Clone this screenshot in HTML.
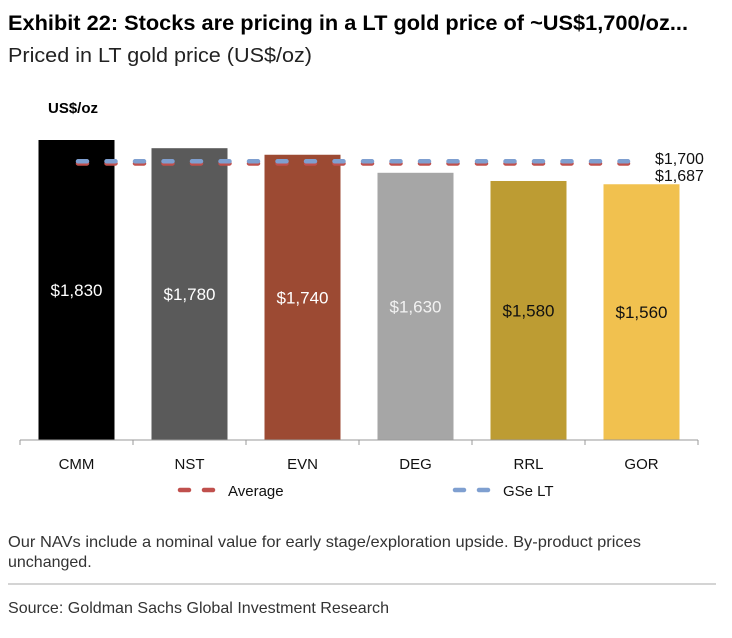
<!DOCTYPE html>
<html><head><meta charset="utf-8"><style>
body{margin:0;background:#fff}
svg{display:block;font-family:"Liberation Sans",sans-serif}
</style></head><body>
<svg id="c" width="732" height="638" viewBox="0 0 732 638">
<text x="8" y="30" font-size="21" font-weight="bold" textLength="680" lengthAdjust="spacingAndGlyphs" fill="#000">Exhibit 22: Stocks are pricing in a LT gold price of ~US$1,700/oz...</text>
<text x="8" y="62" font-size="20" textLength="304" lengthAdjust="spacingAndGlyphs" fill="#222">Priced in LT gold price (US$/oz)</text>
<text x="48" y="113" font-size="15" font-weight="bold" fill="#000">US$/oz</text>
<g id="bars"></g>
<g id="lines"></g>
<line x1="20" y1="440" x2="698" y2="440" stroke="#999" stroke-width="1"/>
<g id="ticks"></g>
<g>
<line x1="180" y1="490" x2="213" y2="490" stroke="#c0504d" stroke-width="4.5" stroke-linecap="round" stroke-dasharray="9,15"/>
<text x="228" y="496" font-size="15" fill="#111">Average</text>
<line x1="455" y1="490" x2="488" y2="490" stroke="#7f9fd0" stroke-width="4.5" stroke-linecap="round" stroke-dasharray="9,15"/>
<text x="503" y="496" font-size="15" fill="#111">GSe LT</text>
</g>
<text x="8" y="547" font-size="16" textLength="633" lengthAdjust="spacingAndGlyphs" fill="#333">Our NAVs include a nominal value for early stage/exploration upside. By-product prices</text>
<text x="8" y="567" font-size="16" fill="#333">unchanged.</text>
<line x1="8" y1="584" x2="716" y2="584" stroke="#aaa" stroke-width="1"/>
<text x="8" y="613" font-size="16" textLength="381" lengthAdjust="spacingAndGlyphs" fill="#333">Source: Goldman Sachs Global Investment Research</text>
</svg>
<script>
const categories=["CMM","NST","EVN","DEG","RRL","GOR"];
const values=[1830,1780,1740,1630,1580,1560];
const valueLabels=["$1,830","$1,780","$1,740","$1,630","$1,580","$1,560"];
const averageValue=1687;
const gseValue=1700;
const colors=["#000000","#5a5a5a","#9c4a33","#a6a6a6","#bd9c33","#f1c14f"];
const textColors=["#fff","#fff","#fff","#f2f2f2","#111","#111"];
const NS="http://www.w3.org/2000/svg";
const y0=440,k=300/1830,x0=20,step=113,bw=76;
const y=v=>y0-v*k;
const xb=i=>x0+i*step+(step-bw)/2;
function mk(t,a,p){const e=document.createElementNS(NS,t);for(const n in a)e.setAttribute(n,a[n]);p.appendChild(e);return e;}
const bars=document.getElementById('bars'),ticks=document.getElementById('ticks'),lines=document.getElementById('lines');
categories.forEach((c,i)=>{
 const r=mk('rect',{x:xb(i),y:y(values[i]),width:bw,height:y0-y(values[i]),fill:colors[i]},bars);
 
 
 const t=mk('text',{x:xb(i)+bw/2,y:(y(values[i])+y0)/2+6,'text-anchor':'middle','font-size':'17',fill:textColors[i]},bars);
 t.textContent=valueLabels[i];
 
 
 const l=mk('text',{x:x0+i*step+step/2,y:469,'text-anchor':'middle','font-size':'15',fill:'#111'},ticks);
 l.textContent=c;
 
 
});
for(let i=0;i<=categories.length;i++){
 const tk=mk('line',{x1:x0+i*step,x2:x0+i*step,y1:y0,y2:y0+5,stroke:'#999'},ticks);
 
 
}
const la=mk('line',{x1:78,x2:628,y1:y(averageValue),y2:y(averageValue),stroke:'#c0504d','stroke-width':4.5,'stroke-linecap':'round','stroke-dasharray':'9,19.5'},lines);


const lg=mk('line',{x1:78,x2:628,y1:y(gseValue),y2:y(gseValue),stroke:'#7f9fd0','stroke-width':4.5,'stroke-linecap':'round','stroke-dasharray':'9,19.5'},lines);


const t1=mk('text',{x:655,y:164,'font-size':'16',fill:'#111'},lines);
t1.textContent='$'+gseValue.toLocaleString('en-US');


const t2=mk('text',{x:655,y:181,'font-size':'16',fill:'#111'},lines);
t2.textContent='$'+averageValue.toLocaleString('en-US');


</script>
</body></html>
